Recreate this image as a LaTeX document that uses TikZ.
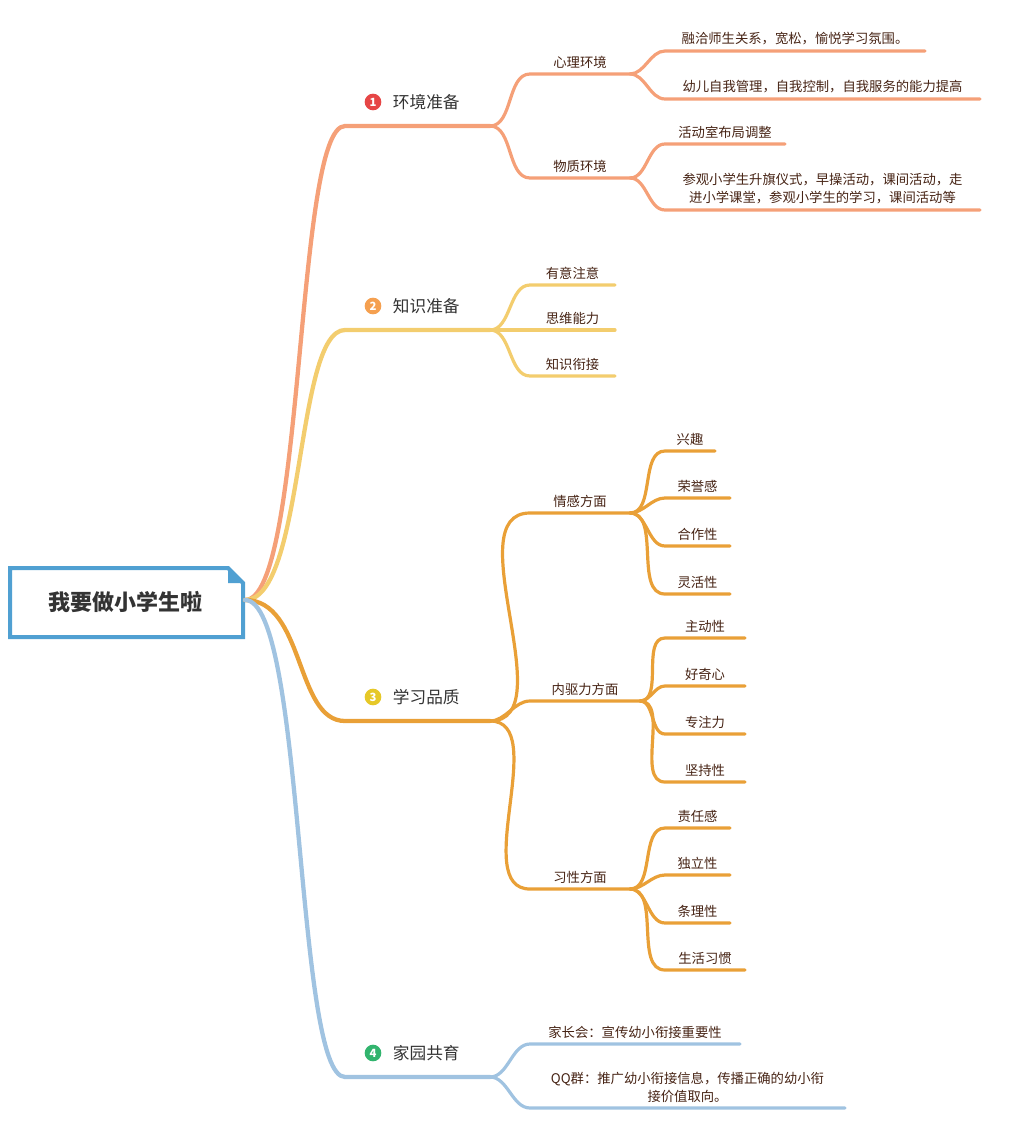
\documentclass[tikz,border=0pt]{standalone}
\usepackage{fontspec}
\setmainfont{Noto Sans CJK SC}
\usetikzlibrary{positioning}
\definecolor{cA}{RGB}{245,160,120}
\definecolor{cB}{RGB}{243,205,110}
\definecolor{cC}{RGB}{233,160,55}
\definecolor{cD}{RGB}{160,195,225}
\definecolor{rootc}{RGB}{80,160,210}
\definecolor{txt}{RGB}{70,35,20}
\definecolor{k1}{RGB}{230,70,70}
\definecolor{k2}{RGB}{245,160,80}
\definecolor{k3}{RGB}{230,200,40}
\definecolor{k4}{RGB}{50,180,110}
\tikzset{
  main/.style={line width=3.2pt, line cap=round},
  sub/.style={line width=2.4pt, line cap=round},
  curve/.style={out=0, in=180, looseness=0.9},
  lbl/.style={font=\fontsize{12.5}{14}\selectfont, text=black!80},
  leaf/.style={font=\fontsize{10}{13.5}\selectfont, text=txt, anchor=south, inner sep=4pt, align=center},
  num/.style={circle, inner sep=0pt, minimum size=12.5pt, text=white, font=\bfseries\fontsize{8.5}{8.5}\selectfont}
}
\begin{document}
\begin{tikzpicture}[x=0.75pt, y=-0.75pt]
\useasboundingbox (0,0) rectangle (1024,1126);
% root
\draw[rootc, line width=3pt] (10,568) -- (228,568) -- (243,583) -- (243,637) -- (10,637) -- cycle;
\fill[rootc] (228,568) -- (228,583) -- (243,583) -- cycle;
\node[font=\bfseries\fontsize{16.5}{18}\selectfont, text=black!80] (root) at (125,602) {我要做小学生啦};
\coordinate (o) at (245,600);
% branches
\foreach \c/\y/\n/\t in {cA/126/1/环境准备, cB/330/2/知识准备, cC/721/3/学习品质, cD/1077/4/家园共育}{
  \draw[main, \c] (o) .. controls (305,600) and (295,\y) .. (345,\y) -- (490,\y);
  \node[num, fill=k\n] (n\n) at (373,\y-24) {\n};
  \node[lbl, right=5pt of n\n] (t\n) {\t};
}
% sub-branches
\foreach \c/\py/\y/\e/\t in {cA/126/74/630/心理环境, cA/126/178/630/物质环境, cB/330/285/615/有意注意, cB/330/330/615/思维能力, cB/330/376/615/知识衔接, cC/721/513/630/情感方面, cC/721/701/640/内驱力方面, cC/721/889/630/习性方面}{
  \draw[sub, \c] (490,\py) to[curve] (530,\y) -- (\e,\y) coordinate[midway] (m);
  \node[leaf] at (m) {\t};
}
\draw[sub, cD] (490,1077) to[curve] (530,1044) -- (740,1044) coordinate[midway] (m);
\node[leaf] at (m) {家长会：宣传幼小衔接重要性};
\draw[sub, cD] (490,1077) to[curve] (530,1108) -- (845,1108) coordinate[midway] (m);
\node[leaf] at (m) {QQ群：推广幼小衔接信息，传播正确的幼小衔\\接价值取向。};
% leaves
\foreach \c/\px/\py/\y/\e/\t in {
  cA/630/74/51/925/融洽师生关系，宽松，愉悦学习氛围。,
  cA/630/74/99/980/幼儿自我管理，自我控制，自我服务的能力提高,
  cA/630/178/144/785/活动室布局调整,
  cA/630/178/210/980/{参观小学生升旗仪式，早操活动，课间活动，走\\进小学课堂，参观小学生的学习，课间活动等},
  cC/630/513/451/715/兴趣, cC/630/513/498/730/荣誉感, cC/630/513/546/730/合作性, cC/630/513/594/730/灵活性,
  cC/640/701/638/745/主动性, cC/640/701/686/745/好奇心, cC/640/701/734/745/专注力, cC/640/701/782/745/坚持性,
  cC/630/889/828/730/责任感, cC/630/889/875/730/独立性, cC/630/889/923/730/条理性, cC/630/889/970/745/生活习惯}{
  \draw[sub, \c] (\px,\py) to[curve] (665,\y) -- (\e,\y) coordinate[midway] (m);
  \node[leaf] at (m) {\t};
}
\end{tikzpicture}
\end{document}
